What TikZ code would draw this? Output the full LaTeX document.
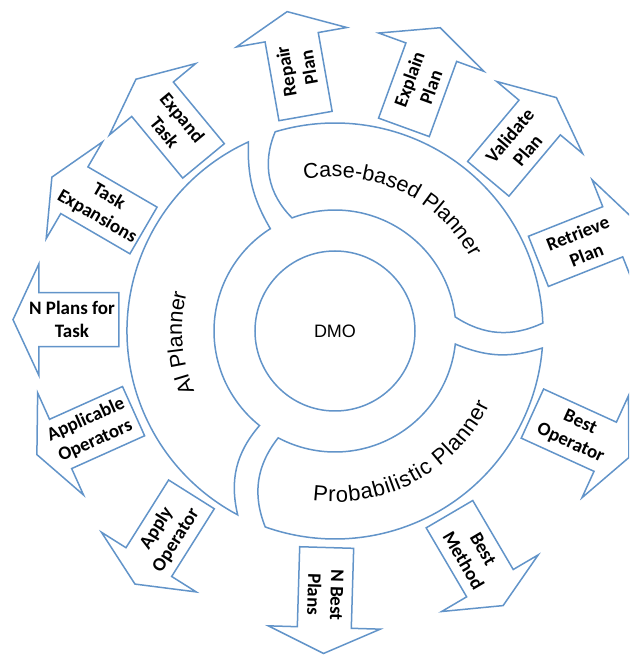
\documentclass[tikz,border=0pt]{standalone}
\usepackage{fontspec}
\setmainfont{Liberation Sans}
\newfontfamily\lblfont{Carlito}
\usetikzlibrary{decorations.text}
\definecolor{segblue}{RGB}{98,148,201}
\newcommand\segfont{\fontsize{21.5}{25}\selectfont}
\newcommand\probfont{\fontsize{22}{25}\selectfont}
\tikzset{
  seg/.style={draw=segblue, line width=1.5pt, fill=white},
  arrowbody/.style={draw=segblue, line width=1.5pt, fill=white},
  lbl/.style={font=\lblfont\bfseries\fontsize{19}{23}\selectfont, align=center, inner sep=0pt},
  segtext/.style={decorate, decoration={text along path, text align=center, text={|\segfont|#1}}},
  segfit/.style={decorate, decoration={text along path, text align=fit to path, text={|\probfont|#1}}}
}
% #1 name, #2 position angle, #3 radius, #4 direction, #5 text rotation, #6 text
\newcommand\blockarrow[6]{%
  \begin{scope}[shift={(#2:#3)}, rotate=#4]
    \draw[arrowbody] (0,-27) -- (80,-27) -- (80,-56) -- (106,0) -- (80,56) -- (80,27) -- (0,27) -- cycle;
  \end{scope}
  \path (#2:#3) ++(#4:47) node[lbl, rotate=#5] (#1) {#6};
}
\begin{document}
\begin{tikzpicture}[x=1pt,y=1pt]
\useasboundingbox (-335,-324) rectangle (294,331);
\clip (-335,-324) rectangle (294,331);

% segments
\draw[seg] (114.6:208) arc[start angle=114.6, end angle=242.1, radius=208]
  to[bend left=27] (231.4:121) arc[start angle=231.4, end angle=122.3, radius=121]
  to[bend left=16] cycle;
\draw[seg] (106.7:208) arc[start angle=106.7, end angle=2.2, radius=208]
  to[bend left=29] (6.7:121) arc[start angle=6.7, end angle=110.8, radius=121]
  to[bend left=34] cycle;
\draw[seg] (-4.7:208) arc[start angle=-4.7, end angle=-109.6, radius=208]
  to[bend left=30] (-118:121) arc[start angle=-118, end angle=-6.2, radius=121]
  to[bend right=20] cycle;

\node[circle, draw=segblue, line width=1.5pt, minimum size=160, inner sep=0pt,
      font=\fontsize{18}{21}\selectfont] (dmo) at (0,0) {DMO};

\path[segtext={Case-based Planner}] (145:154) arc[start angle=145, end angle=-15, radius=154];
\path[segtext={AI Planner}] (244.5:153) arc[start angle=244.5, end angle=124.5, radius=153];
\path[segfit={Probabilistic Planner}] (-97.5:171) arc[start angle=-97.5, end angle=-25.5, radius=171];

% arrows
\blockarrow{repair}{97.8}{217}{100}{100}{Repair\\Plan}
\blockarrow{explain}{71.3}{215}{70}{70}{Explain\\Plan}
\blockarrow{validate}{44.8}{216}{50}{50}{Validate\\Plan}
\blockarrow{retrieve}{18.9}{215}{21.7}{21.7}{Retrieve\\Plan}
\blockarrow{bestop}{-22.7}{214}{-24.5}{-24.5}{Best\\Operator}
\blockarrow{bestmethod}{-58}{216}{-59.6}{-59.6}{Best\\Method}
\blockarrow{nbest}{-92.2}{216.7}{-91.7}{-91.7}{N Best\\Plans}
\blockarrow{applyop}{228.7}{217.5}{237.8}{57.8}{Apply\\Operator}
\blockarrow{applicable}{201.7}{216.8}{204.2}{24.2}{Applicable\\Operators}
\blockarrow{nplans}{177}{216.3}{180}{0}{N Plans for\\Task}
\blockarrow{taskexp}{152.3}{216.3}{149.8}{-30.2}{Task\\Expansions}
\blockarrow{expand}{127.7}{215}{129.6}{-50.4}{Expand\\Task}
\end{tikzpicture}
\end{document}
